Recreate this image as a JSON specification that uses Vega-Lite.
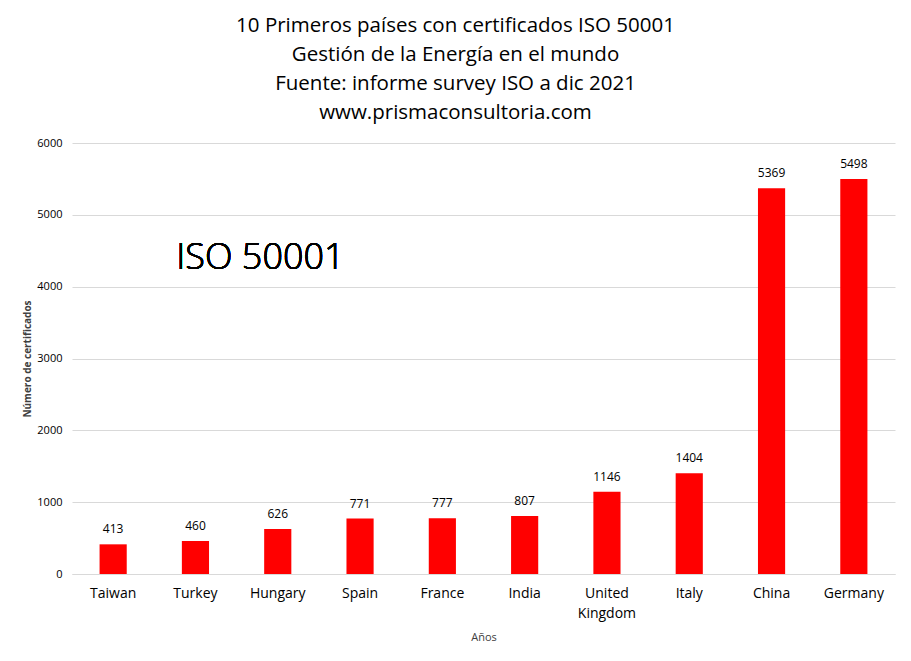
{
  "$schema": "https://vega.github.io/schema/vega-lite/v6.json",
  "width": 823,
  "height": 431,
  "padding": {"left": 72, "top": 143, "right": 16, "bottom": 87},
  "autosize": {"type": "none"},
  "background": "white",
  "view": {"stroke": null},
  "config": {"font": "Open Sans"},
  "title": {
    "text": ["10 Primeros países con certificados ISO 50001", "Gestión de la Energía en el mundo", "Fuente: informe survey ISO a dic 2021", "www.prismaconsultoria.com"],
    "fontSize": 20.5,
    "fontWeight": "normal",
    "font": "Open Sans",
    "color": "#000000",
    "lineHeight": 29,
    "anchor": "middle",
    "dx": -28,
    "offset": 14
  },
  "data": {
    "values": [
      {"pais": "Taiwan", "certificados": 413},
      {"pais": "Turkey", "certificados": 460},
      {"pais": "Hungary", "certificados": 626},
      {"pais": "Spain", "certificados": 771},
      {"pais": "France", "certificados": 777},
      {"pais": "India", "certificados": 807},
      {"pais": "United Kingdom", "certificados": 1146},
      {"pais": "Italy", "certificados": 1404},
      {"pais": "China", "certificados": 5369},
      {"pais": "Germany", "certificados": 5498}
    ]
  },
  "encoding": {
    "x": {
      "field": "pais",
      "type": "nominal",
      "sort": null,
      "scale": {"paddingInner": 0.67, "paddingOuter": 0.335},
      "title": "Años",
      "axis": {
        "labelAngle": 0,
        "labelFontSize": 14,
        "labelColor": "#000000",
        "labelPadding": 12,
        "labelLineHeight": 20,
        "labelExpr": "split(datum.label, ' ')",
        "ticks": false,
        "domainColor": "#d9d9d9",
        "titleFontSize": 11,
        "titleFontWeight": "normal",
        "titleColor": "#404040",
        "titlePadding": 11
      }
    },
    "y": {
      "field": "certificados",
      "type": "quantitative",
      "scale": {"domain": [0, 6000]},
      "title": "Número de certificados",
      "axis": {
        "values": [0, 1000, 2000, 3000, 4000, 5000, 6000],
        "format": "d",
        "domain": false,
        "ticks": false,
        "gridColor": "#d9d9d9",
        "labelFontSize": 11,
        "labelColor": "#000000",
        "labelPadding": 10,
        "titleFontSize": 10,
        "titleFontWeight": "bold",
        "titleColor": "#404040",
        "titlePadding": 4
      }
    }
  },
  "layer": [
    {"mark": {"type": "bar", "color": "#ff0000"}},
    {
      "mark": {"type": "text", "dy": -15, "fontSize": 12, "color": "#000000"},
      "encoding": {"text": {"field": "certificados", "type": "quantitative"}}
    },
    {
      "mark": {"type": "text", "fontSize": 36, "fontWeight": 300, "color": "#000000", "align": "center", "baseline": "middle", "dx": 65, "text": "ISO 50001"},
      "encoding": {
        "x": {"datum": "Turkey"},
        "y": {"datum": 4400}
      }
    }
  ]
}
